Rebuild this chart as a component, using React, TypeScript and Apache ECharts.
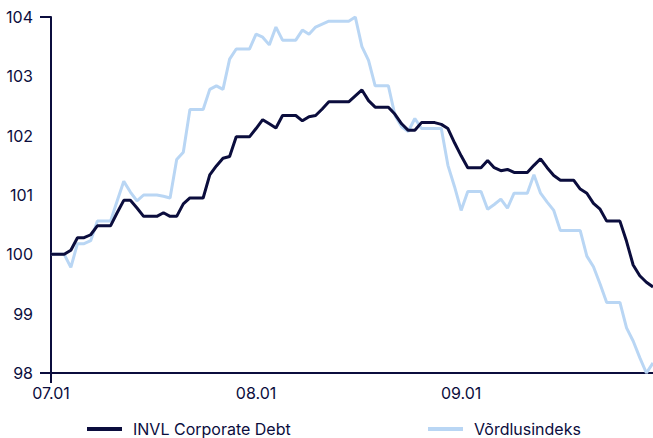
import { useEffect, useRef } from "react";
import * as echarts from "echarts";

const months = ["07", "08", "09"];
const monthLengths = [31, 31, 30];
const dates: string[] = [];
months.forEach((m, i) => {
  for (let d = 1; d <= monthLengths[i]; d++) dates.push(`${m}.${String(d).padStart(2, "0")}`);
});

const seriesNames = ["INVL Corporate Debt", "Võrdlusindeks"];

const invl = [
  100, 100, 100, 100.07, 100.28, 100.28, 100.33, 100.48, 100.48, 100.48,
  100.7, 100.91, 100.91, 100.78, 100.64, 100.64, 100.64, 100.7, 100.64, 100.64,
  100.85, 100.95, 100.95, 100.95, 101.34, 101.49, 101.62, 101.65, 101.98, 101.98,
  101.98, 102.12, 102.27, 102.2, 102.13, 102.34, 102.34, 102.34, 102.25, 102.32,
  102.34, 102.45, 102.57, 102.57, 102.57, 102.57, 102.67, 102.77, 102.59, 102.48,
  102.48, 102.48, 102.36, 102.2, 102.09, 102.09, 102.22, 102.22, 102.22, 102.19,
  102.12, 101.88, 101.66, 101.46, 101.46, 101.46, 101.58, 101.46, 101.41, 101.43,
  101.38, 101.38, 101.38, 101.5, 101.61, 101.46, 101.33, 101.25, 101.25, 101.25,
  101.1, 101.03, 100.86, 100.76, 100.56, 100.56, 100.56, 100.22, 99.82, 99.64,
  99.53, 99.45,
];

const benchmark = [
  100, 100, 100, 99.78, 100.18, 100.18, 100.23, 100.56, 100.56, 100.56,
  100.9, 101.23, 101.05, 100.9, 101.0, 101.0, 101.0, 100.98, 100.95, 101.6,
  101.72, 102.44, 102.44, 102.44, 102.78, 102.84, 102.78, 103.29, 103.46, 103.46,
  103.46, 103.71, 103.66, 103.53, 103.83, 103.61, 103.61, 103.61, 103.78, 103.71,
  103.83, 103.88, 103.93, 103.93, 103.93, 103.93, 104.0, 103.5, 103.27, 102.84,
  102.84, 102.84, 102.34, 102.15, 102.07, 102.29, 102.12, 102.12, 102.12, 102.12,
  101.5, 101.14, 100.74, 101.06, 101.06, 101.06, 100.76, 100.84, 100.93, 100.78,
  101.03, 101.03, 101.03, 101.34, 101.03, 100.88, 100.74, 100.4, 100.4, 100.4,
  100.4, 99.97, 99.79, 99.5, 99.19, 99.19, 99.19, 98.76, 98.54, 98.26,
  98.0, 98.17,
];

const yMin = 98;
const yMax = 104;

const NAVY = "#0b0d3d";
const LIGHT = "#b9d6f4";
const FONT = "Inter, 'Noto Sans', sans-serif";

export default function App() {
  const ref = useRef<HTMLDivElement>(null);
  useEffect(() => {
    if (!ref.current) return;
    const chart = echarts.init(ref.current, null, { renderer: "svg" });
    const legendBase = {
      top: 421,
      padding: 0,
      icon: "rect",
      itemWidth: 35,
      itemHeight: 4,
      textStyle: {
        color: NAVY,
        fontSize: 16,
        lineHeight: 16,
        fontFamily: FONT,
        padding: [0, 0, 0, 6],
      },
    };
    chart.setOption({
      animation: false,
      backgroundColor: "#ffffff",
      grid: { left: 51, right: -3, top: 17, bottom: 65, containLabel: false },
      legend: [
        { ...legendBase, left: 87, data: [seriesNames[0]] },
        { ...legendBase, left: 428, data: [seriesNames[1]] },
      ],
      xAxis: {
        type: "category",
        data: dates,
        boundaryGap: false,
        axisLine: { show: true, lineStyle: { color: NAVY, width: 2 } },
        axisTick: {
          show: true,
          interval: (i: number) => i === 0,
          length: 10,
          lineStyle: { color: NAVY, width: 2 },
        },
        axisLabel: {
          interval: (_i: number, v: string) => v.endsWith(".01"),
          color: NAVY,
          fontSize: 16,
          fontFamily: FONT,
          margin: 12,
        },
        splitLine: { show: false },
      },
      yAxis: [
        {
          type: "value",
          min: yMin,
          max: yMax,
          interval: 1,
          axisLine: { show: true, lineStyle: { color: NAVY, width: 2 } },
          axisTick: { show: false },
          axisLabel: { color: NAVY, fontSize: 16, fontFamily: FONT, margin: 18 },
          splitLine: { show: false },
        },
        {
          type: "value",
          position: "left",
          min: yMin,
          max: yMax,
          interval: yMax - yMin,
          axisLine: { show: false },
          axisTick: { show: true, length: 11, lineStyle: { color: NAVY, width: 2 } },
          axisLabel: { show: false },
          splitLine: { show: false },
        },
      ],
      series: [
        {
          name: seriesNames[1],
          type: "line",
          data: benchmark,
          showSymbol: false,
          symbol: "none",
          color: LIGHT,
          lineStyle: { color: LIGHT, width: 3 },
          z: 2,
        },
        {
          name: seriesNames[0],
          type: "line",
          data: invl,
          showSymbol: false,
          symbol: "none",
          color: NAVY,
          lineStyle: { color: NAVY, width: 3 },
          z: 3,
        },
      ],
    });
    return () => chart.dispose();
  }, []);
  return (
    <div
      ref={ref}
      style={{ position: "fixed", left: 0, top: 0, width: 653, height: 438, background: "#fff" }}
    />
  );
}
